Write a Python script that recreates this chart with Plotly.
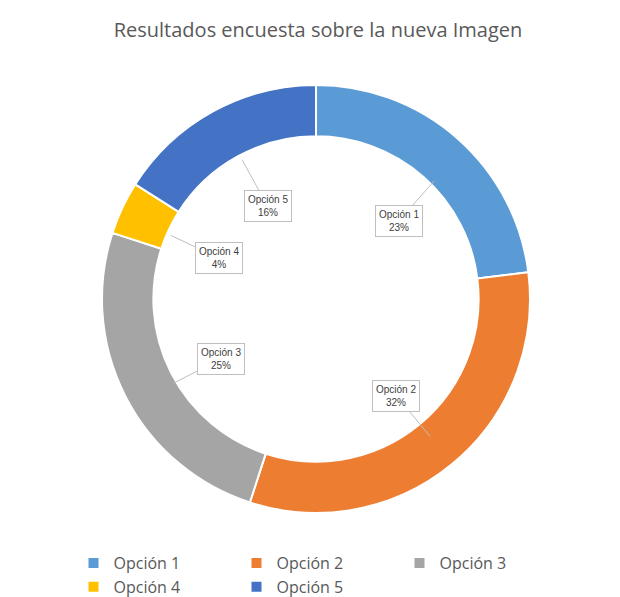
import plotly.graph_objects as go
import math

labels = ["Opción 1", "Opción 2", "Opción 3", "Opción 4", "Opción 5"]
values = [23, 32, 25, 4, 16]
colors = ["#5B9BD5", "#ED7D31", "#A5A5A5", "#FFC000", "#4472C4"]

W, H = 620, 597
cx, cy, R = 315, 299, 214
dx, dy = -7, -8  # compensation for plotly's pie placement
fig = go.Figure(go.Pie(
    labels=labels, values=values, hole=0.76, sort=False, direction="clockwise",
    rotation=0, marker=dict(colors=colors, line=dict(color="white", width=2)),
    textinfo="none", hoverinfo="label+percent",
    domain=dict(x=[(cx+dx-R)/W, (cx+dx+R)/W], y=[1-(cy+dy+R)/H, 1-(cy+dy-R)/H])))

total = sum(values)
cum = 0
anns = []
for lab, v in zip(labels, values):
    mid = (cum + v/2) / total * 2*math.pi
    cum += v
    lx, ly = cx + 115*math.sin(mid), cy - 115*math.cos(mid)
    px, py = cx + 168*math.sin(mid), cy - 168*math.cos(mid)
    anns.append(dict(x=px/W, y=1-py/H, xref="paper", yref="paper",
                     ax=lx-px, ay=ly-py, axref="pixel", ayref="pixel",
                     text=f"{lab}<br>{round(v/total*100)}%", showarrow=True,
                     arrowhead=0, arrowwidth=1, arrowcolor="#BFBFBF",
                     bordercolor="#BFBFBF", borderwidth=1, borderpad=3, bgcolor="white",
                     font=dict(size=10, color="#404040", family="Liberation Sans")))

fig.update_layout(
    width=W, height=H, margin=dict(l=0, r=0, t=0, b=0), paper_bgcolor="white",
    title=dict(text="Resultados encuesta sobre la nueva Imagen", x=0.5, y=0.963,
               xanchor="center", yanchor="middle",
               font=dict(size=20, color="#595959", family="Open Sans")),
    legend=dict(orientation="h", x=0.5, xanchor="center", y=0.05, yanchor="middle",
                itemwidth=30, entrywidth=118,
                font=dict(size=16, color="#595959", family="Open Sans"), traceorder="normal"),
    annotations=anns)
fig.write_html("out.html")
